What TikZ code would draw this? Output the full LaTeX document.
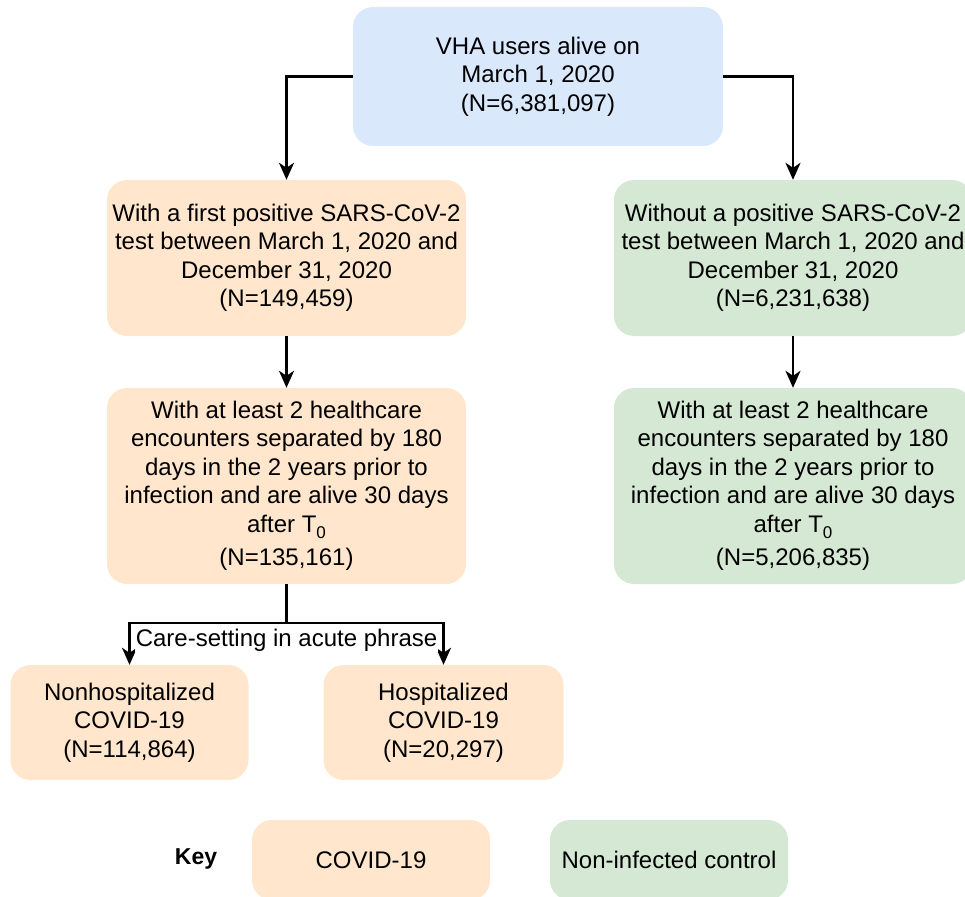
\documentclass[tikz,border=0pt]{standalone}
\usepackage{fontspec}
\setmainfont{Liberation Sans}
\usetikzlibrary{arrows.meta,positioning}
\definecolor{bluefill}{HTML}{DAE8FC}
\definecolor{orangefill}{HTML}{FFE6CC}
\definecolor{greenfill}{HTML}{D5E8D4}
\newcommand{\tzero}{T\raisebox{-6pt}{\fontsize{17}{17}\selectfont 0}}
\tikzset{
  box/.style={rounded corners=20pt, align=center, inner sep=2pt,
    font=\fontsize{24}{28.5}\selectfont},
  bluebox/.style={box, fill=bluefill},
  orangebox/.style={box, fill=orangefill},
  greenbox/.style={box, fill=greenfill},
  conn/.style={line width=2.2pt, -{Stealth[length=17pt,width=15pt,inset=5pt]}},
  plain/.style={line width=2.2pt},
}
\begin{document}
\begin{tikzpicture}[x=1pt,y=-1pt]
\useasboundingbox (0,0) rectangle (965,896);
\clip (0,0) rectangle (965,896);
\node[bluebox, minimum width=370pt, minimum height=139pt] (top) at (538,76.5)
  {VHA users alive on\\March 1, 2020\\(N=6,381,097)};
\node[orangebox, minimum width=359pt, minimum height=156pt] (l2) at (286.5,258)
  {With a first positive SARS-CoV-2\\test between March 1, 2020 and\\December 31, 2020\\(N=149,459)};
\node[greenbox, minimum width=358pt, minimum height=156pt] (r2) at (793,258)
  {Without a positive SARS-CoV-2\\test between March 1, 2020 and\\December 31, 2020\\(N=6,231,638)};
\node[orangebox, minimum width=359pt, minimum height=196pt] (l3) at (286.5,486)
  {With at least 2 healthcare\\encounters separated by 180\\days in the 2 years prior to\\infection and are alive 30 days\\after \tzero\\[5pt](N=135,161)};
\node[greenbox, minimum width=358pt, minimum height=196pt] (r3) at (793,486)
  {With at least 2 healthcare\\encounters separated by 180\\days in the 2 years prior to\\infection and are alive 30 days\\after \tzero\\[5pt](N=5,206,835)};
\node[orangebox, minimum width=238pt, minimum height=115pt] (b1) at (129.5,722.5)
  {Nonhospitalized\\COVID-19\\(N=114,864)};
\node[orangebox, minimum width=240pt, minimum height=115pt] (b2) at (443.5,722.5)
  {Hospitalized\\COVID-19\\(N=20,297)};
\node[font=\fontsize{23}{28}\selectfont\bfseries] (key) at (196,859) {Key};
\node[orangebox, minimum width=238pt, minimum height=80pt] (k1) at (371,860) {COVID-19};
\node[greenbox, minimum width=238pt, minimum height=80pt] (k2) at (669,860) {Non-infected control};

\draw[conn] (top.west) -| (l2.north);
\draw[conn] (top.east) -| (r2.north);
\draw[conn] (l2.south) -- (l3.north);
\draw[conn] (r2.south) -- (r3.north);
\coordinate (split) at (286.5,623);
\draw[plain] (l3.south) -- (split);
\draw[conn] (split) -| (b1.north);
\draw[conn] (split) -| (b2.north);
\node[fill=white, inner sep=1pt, font=\fontsize{24}{28}\selectfont] (lab) at (286.5,640) {Care-setting in acute phrase};
\end{tikzpicture}
\end{document}
